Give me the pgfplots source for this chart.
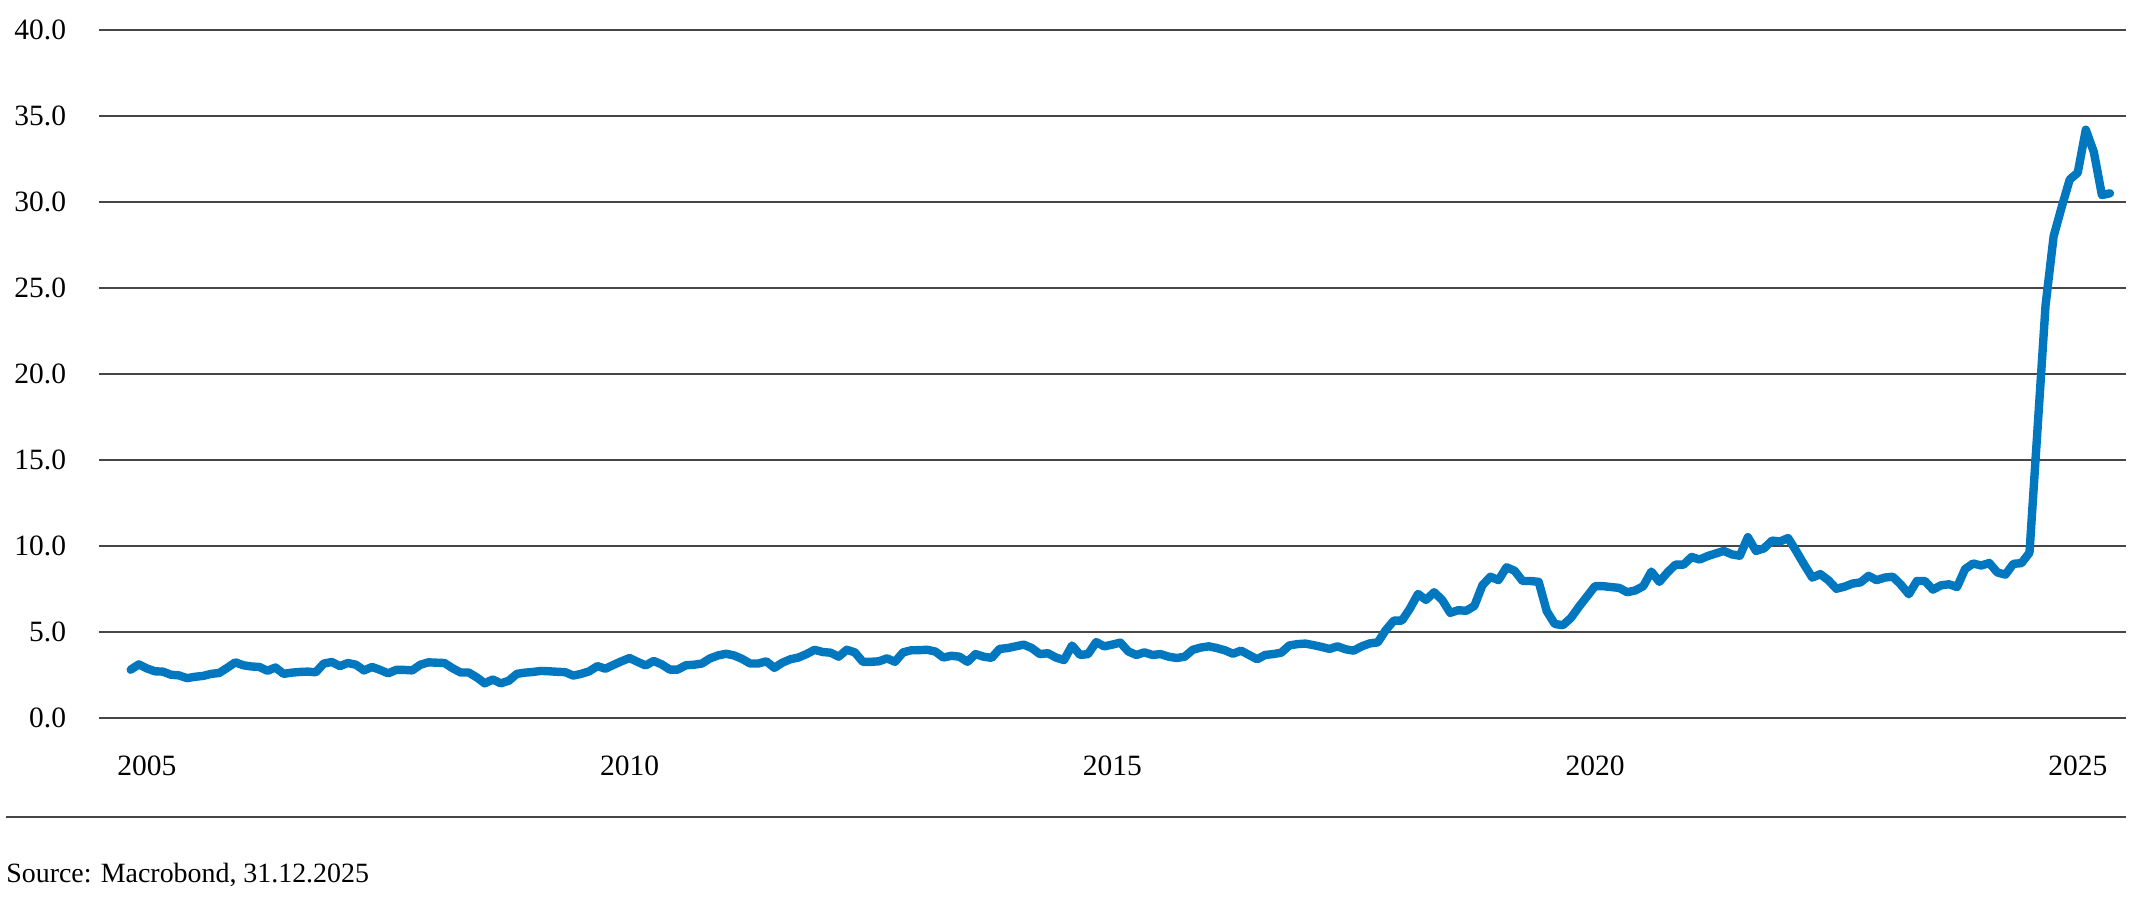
\documentclass[border=0pt]{standalone}
\usepackage{fontspec}
\setmainfont{Liberation Serif}
\usepackage{pgfplots}
\pgfplotsset{compat=1.18}
\usepackage{pgfplotstable}

\definecolor{mbblue}{RGB}{0,119,190}
\definecolor{gridgray}{RGB}{70,70,70}

% month index (0 = Jan 2005), value
\pgfplotstableread{
m v
4 2.79
5 3.10
6 2.87
7 2.70
8 2.68
9 2.50
10 2.46
11 2.30
12 2.38
13 2.43
14 2.55
15 2.60
16 2.90
17 3.22
18 3.05
19 2.98
20 2.95
21 2.73
22 2.92
23 2.55
24 2.62
25 2.66
26 2.68
27 2.64
28 3.15
29 3.24
30 3.00
31 3.18
32 3.08
33 2.75
34 2.95
35 2.78
36 2.58
37 2.78
38 2.78
39 2.75
40 3.08
41 3.22
42 3.20
43 3.18
44 2.88
45 2.63
46 2.63
47 2.35
48 2.00
49 2.22
50 2.00
51 2.15
52 2.55
53 2.62
54 2.66
55 2.72
56 2.70
57 2.67
58 2.65
59 2.45
60 2.55
61 2.70
62 3.00
63 2.85
64 3.07
65 3.28
66 3.47
67 3.25
68 3.04
69 3.30
70 3.10
71 2.80
72 2.80
73 3.05
74 3.08
75 3.15
76 3.45
77 3.62
78 3.72
79 3.62
80 3.42
81 3.15
82 3.15
83 3.28
84 2.90
85 3.20
86 3.40
87 3.50
88 3.70
89 3.95
90 3.82
91 3.78
92 3.55
93 3.95
94 3.80
95 3.25
96 3.25
97 3.28
98 3.45
99 3.25
100 3.80
101 3.92
102 3.93
103 3.95
104 3.85
105 3.50
106 3.60
107 3.55
108 3.25
109 3.70
110 3.55
111 3.48
112 4.00
113 4.05
114 4.15
115 4.25
116 4.05
117 3.70
118 3.75
119 3.50
120 3.35
121 4.20
122 3.65
123 3.70
124 4.40
125 4.15
126 4.25
127 4.37
128 3.85
129 3.65
130 3.80
131 3.65
132 3.70
133 3.55
134 3.47
135 3.55
136 3.95
137 4.08
138 4.15
139 4.05
140 3.92
141 3.72
142 3.90
143 3.65
144 3.40
145 3.65
146 3.70
147 3.78
148 4.20
149 4.28
150 4.31
151 4.22
152 4.12
153 4.00
154 4.15
155 3.98
156 3.90
157 4.15
158 4.32
159 4.38
160 5.10
161 5.65
162 5.65
163 6.35
164 7.20
165 6.85
166 7.30
167 6.85
168 6.10
169 6.25
170 6.22
171 6.50
172 7.70
173 8.20
174 8.00
175 8.75
176 8.55
177 7.95
178 7.95
179 7.90
180 6.20
181 5.45
182 5.38
183 5.80
184 6.45
185 7.05
186 7.65
187 7.65
188 7.60
189 7.55
190 7.30
191 7.40
192 7.65
193 8.50
194 7.90
195 8.45
196 8.90
197 8.90
198 9.35
199 9.20
200 9.40
201 9.55
202 9.70
203 9.50
204 9.42
205 10.50
206 9.70
207 9.85
208 10.30
209 10.25
210 10.45
211 9.70
212 8.90
213 8.15
214 8.35
215 8.00
216 7.50
217 7.62
218 7.80
219 7.87
220 8.25
221 8.00
222 8.15
223 8.20
224 7.75
225 7.18
226 7.95
227 7.95
228 7.45
229 7.70
230 7.76
231 7.60
232 8.65
233 8.97
234 8.85
235 9.00
236 8.45
237 8.32
238 8.95
239 8.99
240 9.60
241 16.8
242 24.0
243 28.0
244 29.7
245 31.3
246 31.7
247 34.2
248 32.9
249 30.4
250 30.5
}\rates

\begin{document}
\begin{tikzpicture}
\useasboundingbox (0,0) rectangle (1067bp,448.5bp);
\begin{axis}[
  at={(49.25bp,89.65bp)}, anchor=south west,
  width=1013.75bp, height=343.85bp, scale only axis,
  xmin=0, xmax=252, ymin=0, ymax=40,
  axis line style={draw=none},
  major tick length=0pt,
  ymajorgrids,
  grid style={gridgray, line width=1bp},
  xtick={6,66,126,186,246},
  xticklabels={2005,2010,2015,2020,2025},
  ytick={0,5,...,40},
  /pgf/number format/assume math mode=true,
  tick label style={font=\fontsize{14.8}{17}\selectfont},
  xticklabel style={anchor=north, inner sep=0pt, yshift=-19bp},
  yticklabel style={anchor=east, inner sep=0pt, xshift=-16bp,
    /pgf/number format/fixed, /pgf/number format/fixed zerofill,
    /pgf/number format/precision=1},
  clip=false,
]
\addplot[mbblue, line width=4.2bp, line join=round, line cap=round] table[x=m, y=v] {\rates};
\end{axis}
\draw[gridgray, line width=1bp] (3bp,40.15bp) -- (1063bp,40.15bp);
\node[anchor=base west, inner sep=0pt, font=\fontsize{14}{17}\selectfont] at (3bp,7.5bp) {Source: Macrobond, 31.12.2025};
\end{tikzpicture}
\end{document}
